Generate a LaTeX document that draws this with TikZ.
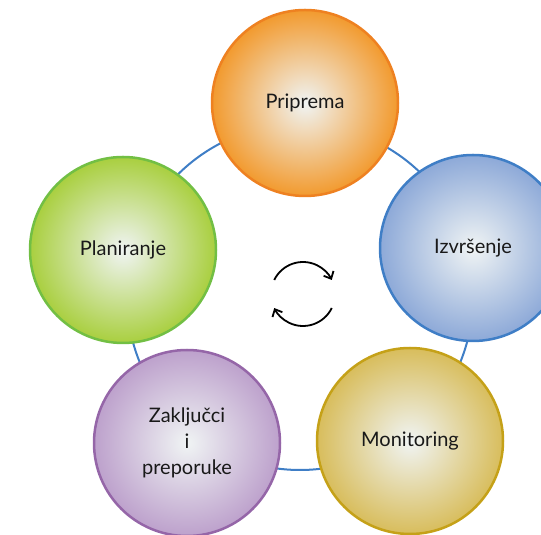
\documentclass[tikz,border=0pt]{standalone}
\usepackage{fontspec}
\setmainfont{Lato}
\usetikzlibrary{positioning,arrows.meta}

\definecolor{ringblue}{HTML}{3F7EC6}
\definecolor{centrecol}{HTML}{F0F4F4}
\definecolor{prepline}{HTML}{EE8121}
\definecolor{prepfill}{HTML}{F29A2E}
\definecolor{execline}{HTML}{3F7EC6}
\definecolor{execfill}{HTML}{8DA9D8}
\definecolor{planline}{HTML}{72BF44}
\definecolor{planfill}{HTML}{A9CF3F}
\definecolor{conline}{HTML}{9566A8}
\definecolor{confill}{HTML}{BDA1CC}
\definecolor{monline}{HTML}{C5A118}
\definecolor{monfill}{HTML}{D8BD5C}

\begin{document}
\begin{tikzpicture}[x=1pt, y=1pt,
  phase/.style={circle, minimum size=186pt, line width=2.5pt, inner color=centrecol,
    align=center, text=black!90, font=\fontsize{20}{26}\selectfont},
  cyclearrow/.style={line width=1.8pt, -{Straight Barb[length=6pt, width=11pt]}}]
\useasboundingbox (0,0) rectangle (541,535);

% ring behind the phases
\coordinate (ring) at (300,238);
\draw[ringblue, line width=2pt] (ring) circle (173pt);

\node[phase, draw=prepline, outer color=prepfill] (priprema) at (305,432) {Priprema};
\node[phase, draw=execline, outer color=execfill] (izvrsenje) at (473,287) {Izvršenje};
\node[phase, draw=monline, outer color=monfill] (monitoring) at (410,94) {Monitoring};
\node[phase, draw=conline, outer color=confill] (zakljucci) at (187,92) {Zaključci\\i\\preporuke};
\node[phase, draw=planline, outer color=planfill] (planiranje) at (123,285) {Planiranje};

% cycle symbol in the middle
\coordinate (cycle) at (303,241);
\draw[cyclearrow] ([shift={(154:32pt)}]cycle) arc[start angle=154, end angle=26, radius=32pt];
\draw[cyclearrow] ([shift={(-26:32pt)}]cycle) arc[start angle=-26, end angle=-154, radius=32pt];

\end{tikzpicture}
\end{document}
